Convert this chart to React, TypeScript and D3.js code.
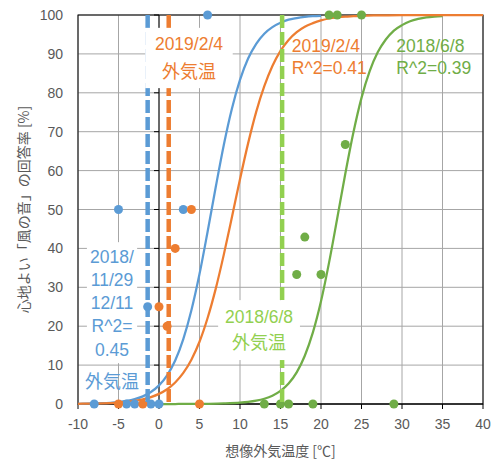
import React from 'react';
import * as d3 from 'd3';

// 回答データ（想像外気温度, 回答率%）
const blueX = [-8, -4, -3, -1, 0, -5, 3, 6, -1.4];
const blueY = [0, 0, 0, 0, 0, 50, 50, 100, 25];
const orangeX = [-5, -2, 0, 1, 2, 4, 5];
const orangeY = [0, 0, 25, 20, 40, 50, 0];
const greenX = [13, 15, 16, 19, 29, 17, 18, 20, 23, 21, 22, 25];
const greenY = [0, 0, 0, 0, 0, 33.3, 42.9, 33.3, 66.7, 100, 100, 100];

// 近似曲線
const blueFitX = [-10, -9, -8, -7, -6, -5, -4, -3, -2, -1, 0, 1, 2, 3, 4, 5, 6, 7, 8, 9, 10, 11, 12, 13, 14, 15, 16, 17, 18, 19, 20];
const blueFitY = [0.05, 0.08, 0.13, 0.2, 0.32, 0.5, 0.79, 1.25, 1.96, 3.08, 4.79, 7.38, 11.2, 16.7, 24.1, 33.4, 44.3, 55.7, 66.6, 75.9, 83.3, 88.8, 92.6, 95.2, 96.9, 98.0, 98.8, 99.2, 99.5, 99.7, 99.8];
const orangeFitX = [-10, -9, -8, -7, -6, -5, -4, -3, -2, -1, 0, 1, 2, 3, 4, 5, 6, 7, 8, 9, 10, 11, 12, 13, 14, 15, 16, 17, 18, 19, 20, 21, 22, 23, 24, 25, 27, 30, 35, 40];
const orangeFitY = [0.05, 0.08, 0.11, 0.17, 0.25, 0.37, 0.55, 0.81, 1.2, 1.77, 2.6, 3.8, 5.54, 8.0, 11.4, 16.0, 22.1, 29.6, 38.4, 48.0, 57.8, 67.0, 75.1, 81.7, 86.9, 90.8, 93.6, 95.6, 97.0, 97.9, 98.6, 99.1, 99.4, 99.6, 99.7, 99.8, 99.9, 100, 100, 100];
const greenFitX = [0, 2, 4, 6, 8, 10, 11, 12, 13, 14, 15, 16, 17, 18, 19, 20, 21, 22, 23, 24, 25, 26, 27, 28, 29, 30, 31, 32, 33, 34, 35];
const greenFitY = [0, 0, 0.01, 0.05, 0.14, 0.34, 0.54, 0.86, 1.36, 2.14, 3.37, 5.27, 8.14, 12.4, 18.4, 26.4, 36.4, 47.7, 59.2, 69.8, 78.7, 85.5, 90.4, 93.7, 96.0, 97.4, 98.4, 99.0, 99.4, 99.6, 99.7];

// 外気温（破線）
const tempBlue = -1.4;
const tempOrange = 1.2;
const tempGreen = 15.2;

const xTicks = [-10, -5, 0, 5, 10, 15, 20, 25, 30, 35, 40];
const yTicks = [0, 10, 20, 30, 40, 50, 60, 70, 80, 90, 100];

const BLUE = '#5B9BD5';
const ORANGE = '#ED7D31';
const GREEN = '#70AD47';
const LIGHT_GREEN = '#92D050';
const LABEL_FONT = '"Liberation Sans", Arial, "Noto Sans CJK JP", sans-serif';
const JP_FONT = '"Noto Sans CJK JP", sans-serif';

const App = () => {
  const width = 495;
  const height = 459;
  const x = d3.scaleLinear().domain([-10, 40]).range([78, 483]);
  const y = d3.scaleLinear().domain([0, 100]).range([404, 15]);

  const fitPath = (xs: number[], ys: number[]) =>
    d3.line<number>()
      .x((_, i) => x(xs[i]))
      .y((_, i) => y(ys[i]))
      .curve(d3.curveMonotoneX)(xs) || '';

  const dashLine = (t: number, color: string) => (
    <line x1={x(t)} x2={x(t)} y1={y(100)} y2={y(0)} stroke={color} strokeWidth={4.5} strokeDasharray="13 4" />
  );

  const markers = (xs: number[], ys: number[], color: string) =>
    xs.map((v, i) => <circle key={i} cx={x(v)} cy={y(ys[i])} r={4.5} fill={color} />);

  // 注釈ボックス（データ座標で指定）
  const box = (x0: number, x1: number, y0: number, y1: number) => (
    <rect x={x(x0)} y={y(y0)} width={x(x1) - x(x0)} height={y(y1) - y(y0)} fill="#fff" />
  );

  return (
    <div style={{ position: 'absolute', left: 0, top: 0, width, height, background: '#fff' }}>
      <svg width={width} height={height}>
        {/* グリッド */}
        {xTicks.map(t => (
          <line key={'gx' + t} x1={x(t)} x2={x(t)} y1={y(0)} y2={y(100)} stroke="#a6a6a6" strokeWidth={1} />
        ))}
        {yTicks.map(t => (
          <line key={'gy' + t} x1={x(-10)} x2={x(40)} y1={y(t)} y2={y(t)} stroke="#a6a6a6" strokeWidth={1} />
        ))}
        <rect x={x(-10)} y={y(100)} width={x(40) - x(-10)} height={y(0) - y(100)} fill="none" stroke="#000" strokeWidth={1} />

        {/* 軸 */}
        <line x1={x(0)} x2={x(0)} y1={y(0)} y2={y(100)} stroke="#000" strokeWidth={1} />
        {yTicks.map(t => (
          <line key={'ty' + t} x1={x(0) - 5} x2={x(0)} y1={y(t)} y2={y(t)} stroke="#000" strokeWidth={1} />
        ))}
        <line x1={x(-10)} x2={x(40)} y1={y(0)} y2={y(0)} stroke="#000" strokeWidth={1.2} />
        {xTicks.map(t => (
          <line key={'tx' + t} x1={x(t)} x2={x(t)} y1={y(0)} y2={y(0) + 5} stroke="#000" strokeWidth={1} />
        ))}

        {/* 目盛ラベル */}
        {yTicks.map(t => (
          <text key={'ly' + t} x={63} y={y(t) + 5} textAnchor="end" fontFamily={LABEL_FONT} fontSize={14} fill="#595959">{t}</text>
        ))}
        {xTicks.map(t => (
          <text key={'lx' + t} x={x(t)} y={429} textAnchor="middle" fontFamily={LABEL_FONT} fontSize={14} fill="#595959">{t}</text>
        ))}

        {/* 軸タイトル */}
        <text x={(x(-10) + x(40)) / 2} y={452} dominantBaseline="middle" textAnchor="middle" fontFamily={JP_FONT} fontSize={14} fill="#595959">想像外気温度 [℃]</text>
        <text transform={`translate(25, ${(y(0) + y(100)) / 2}) rotate(-90)`} dominantBaseline="middle" textAnchor="middle" fontFamily={JP_FONT} fontSize={14} fill="#595959">心地よい「風の音」の回答率 [%]</text>

        {/* 近似曲線 */}
        <path d={fitPath(blueFitX, blueFitY)} fill="none" stroke={BLUE} strokeWidth={2.25} />
        <path d={fitPath(greenFitX, greenFitY)} fill="none" stroke={GREEN} strokeWidth={2.25} />
        <path d={fitPath(orangeFitX, orangeFitY)} fill="none" stroke={ORANGE} strokeWidth={2.25} />

        {/* データ点 */}
        {markers(blueX, blueY, BLUE)}
        {markers(orangeX, orangeY, ORANGE)}
        {markers(greenX, greenY, GREEN)}

        {/* 外気温の破線 */}
        {dashLine(tempBlue, BLUE)}
        {dashLine(tempOrange, ORANGE)}
        {dashLine(tempGreen, LIGHT_GREEN)}

        {/* 注釈 */}
        {box(-1.7, 9.1, 96.7, 81.2)}
        <text x={x(3.7)} y={y(92.5) + 6} textAnchor="middle" fontFamily={LABEL_FONT} fontSize={17.5} fill={ORANGE}>2019/2/4</text>
        <text x={x(3.7)} y={y(85.3) + 6} textAnchor="middle" fontFamily={JP_FONT} fontSize={18} fill={ORANGE}>外気温</text>

        <text x={x(16.4)} y={y(92) + 6} fontFamily={LABEL_FONT} fontSize={17.5} fill={ORANGE}>2019/2/4</text>
        <text x={x(16.4)} y={y(86.4) + 6} fontFamily={LABEL_FONT} fontSize={17.5} fill={ORANGE}>R^2=0.41</text>

        <text x={x(29.3)} y={y(92) + 6} fontFamily={LABEL_FONT} fontSize={17.5} fill={GREEN}>2018/6/8</text>
        <text x={x(29.3)} y={y(86.4) + 6} fontFamily={LABEL_FONT} fontSize={17.5} fill={GREEN}>R^2=0.39</text>

        {box(-8.9, -2.7, 41.6, 10.5)}
        {['2018/', '11/29', '12/11', 'R^2=', '0.45'].map((s, i) => (
          <text key={s} x={x(-5.8)} y={y([37.8, 31.9, 26.0, 20.1, 13.9][i]) + 6} textAnchor="middle" fontFamily={LABEL_FONT} fontSize={17.5} fill={BLUE}>{s}</text>
        ))}
        <text x={x(-5.8)} y={y(5.7) + 6} textAnchor="middle" fontFamily={JP_FONT} fontSize={18} fill={BLUE}>外気温</text>

        {box(7.3, 17.4, 26.7, 11.3)}
        <text x={x(12.35)} y={y(22.4) + 6} textAnchor="middle" fontFamily={LABEL_FONT} fontSize={17.5} fill={LIGHT_GREEN}>2018/6/8</text>
        <text x={x(12.35)} y={y(15.7) + 6} textAnchor="middle" fontFamily={JP_FONT} fontSize={18} fill={LIGHT_GREEN}>外気温</text>
      </svg>
    </div>
  );
};

export default App;
